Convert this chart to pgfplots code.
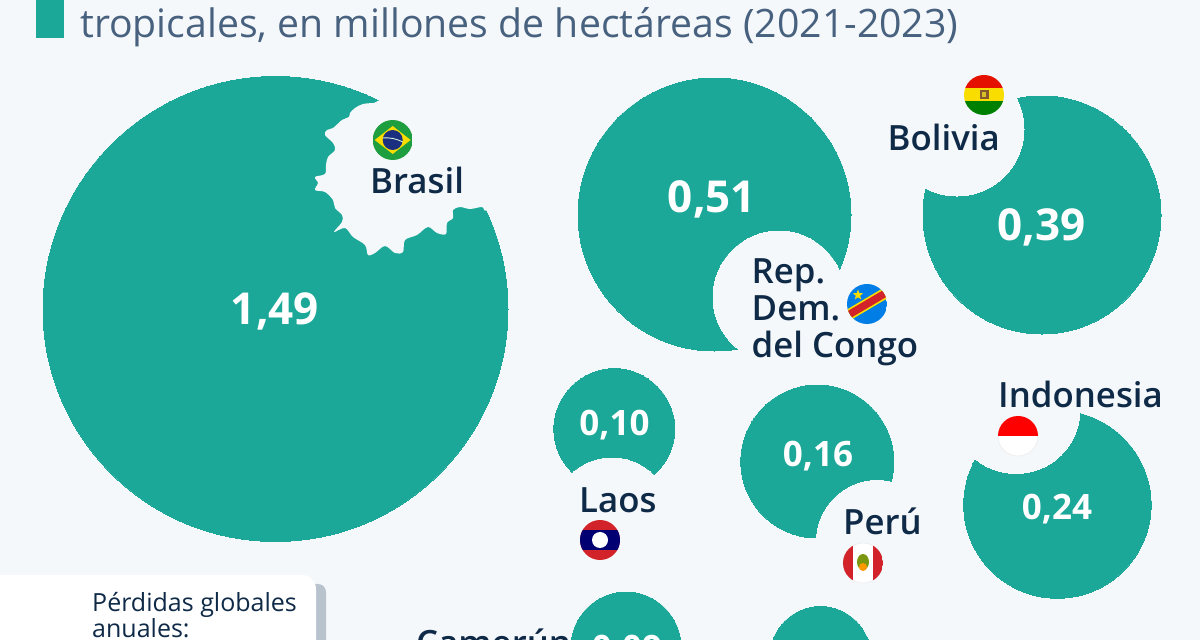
\documentclass[border=0pt]{standalone}
\usepackage{pgfplots}
\pgfplotsset{compat=1.18}
\usepackage{pgfplotstable}
\usetikzlibrary{shapes.geometric}
\usepackage{fontspec}
\setmainfont{Open Sans}
\IfFontExistsTF{Open Sans Semibold}{\newfontfamily\semi{Open Sans Semibold}}{%
  \IfFontExistsTF{Open Sans Medium}{\newfontfamily\semi{Open Sans Medium}}{\newcommand{\semi}{\bfseries}}}
\definecolor{bg}{HTML}{F5F8FB}
\definecolor{bubble}{HTML}{1BA898}
\definecolor{navy}{HTML}{0F2A47}
\definecolor{slate}{HTML}{47617F}
\definecolor{boxshadow}{HTML}{B9C3CE}
\definecolor{fgreen}{HTML}{1E9E3E}
\definecolor{fyellow}{HTML}{F9DC00}
\definecolor{fblue}{HTML}{1B2F80}
\definecolor{fred}{HTML}{D2232A}

% one disc: colour, radius in px, centre
\newcommand{\disc}[4]{\addplot[only marks, mark=*, mark size=#2,
  mark options={fill=#1, draw=#1, line width=0pt}] coordinates {(#3,#4)};}

% value labels
\pgfplotstableread{
x y v
275 324 1.49
712 212.7 0.51
1041.8 240 0.39
}\bigvalues
\pgfplotstableread{
x y v
614.5 435 0.10
818 466.7 0.16
1057 519 0.24
627 660 0.09
}\smallvalues

\begin{document}
\begin{tikzpicture}
\useasboundingbox (0,0) rectangle (1200pt,640pt);
\clip (0,0) rectangle (1200pt,640pt);
\fill[bg] (0,0) rectangle (1200pt,640pt);
% title marker
\fill[bubble] (36pt,602pt) rectangle (64pt,640pt);
% note box
\fill[boxshadow,rounded corners=8pt] (250pt,-20pt) rectangle (326pt,56pt);
\fill[white,rounded corners=14pt] (-30pt,-20pt) rectangle (316pt,65pt);
\begin{axis}[
    scale only axis, width=1200pt, height=640pt,
    xmin=0, xmax=1200, ymin=0, ymax=640, y dir=reverse,
    hide axis, clip=false,
    /pgf/number format/assume math mode=true,
    /pgf/number format/use comma,
    /pgf/number format/fixed,
    /pgf/number format/fixed zerofill,
    /pgf/number format/precision=2,
  ]
  % bubbles
  \disc{bubble}{232.5}{275.5}{309}
  \disc{bubble}{136.5}{714.5}{214.5}
  \disc{bubble}{119}{1042}{215}
  \disc{bubble}{93.7}{1057.4}{504.6}
  \disc{bubble}{76.5}{817.3}{461.5}
  \disc{bubble}{60.4}{614.3}{429}
  \disc{bubble}{55}{626}{647}
  \disc{bubble}{50.5}{820.5}{657}
  % bites round the labels
  \disc{bg}{66}{779}{297}
  \disc{bg}{67}{957}{129}
  \disc{bg}{60}{612}{518}
  \disc{bg}{60.5}{877}{541}
  \disc{bg}{64}{1016}{409.5}
  \addplot[draw=none, mark=none, point meta=explicit, nodes near coords,
    every node near coord/.style={anchor=base, inner sep=0pt, text=white, font=\fontsize{44}{44}\selectfont\bfseries}]
    table[x=x,y=y,meta=v] {\bigvalues};
  \addplot[draw=none, mark=none, point meta=explicit, nodes near coords,
    every node near coord/.style={anchor=base, inner sep=0pt, text=white, font=\fontsize{35}{35}\selectfont\bfseries}]
    table[x=x,y=y,meta=v] {\smallvalues};
\end{axis}
% from here on the coordinates are px of the reference, y downwards
\begin{scope}[x=1pt,y=-1pt,yshift=640pt]
  % scalloped bite in the Brazil bubble
  \fill[bg] plot[smooth, tension=0.55] coordinates {
    (374,103) (363,104) (355,108) (350,113) (349,117) (342,120) (333,128) (327,130)
    (325,135) (333,143) (335,150) (328,157) (326,165) (325,174) (315,177) (318,183)
    (315,190) (325,192) (333,200) (335,208) (342,215) (342,222) (334,232) (345,228)
    (353,237) (365,245) (368,255) (375,253) (385,246) (395,253) (403,252) (405,240)
    (417,235) (428,227) (437,233) (446,234) (447,223) (453,218) (453,210) (460,207)
    (470,209) (482,207) (487,210) (510,190) (500,110) (420,80)
  } -- cycle;
  \node[anchor=base west, inner sep=0pt, text=slate, font=\fontsize{39.2}{40}\selectfont] at (80,38) {tropicales, en millones de hectáreas (2021-2023)};
  \begin{scope}[every node/.style={anchor=base west, inner sep=0pt, text=navy, font=\fontsize{34.8}{35}\selectfont\semi}]
    \node at (370,193.3) {Brasil};
    \node at (887.5,151) {Bolivia};
    \node at (751.5,284) {Rep.};
    \node at (751.5,321) {Dem.};
    \node at (751.5,358) {del Congo};
    \node at (998,407.5) {Indonesia};
    \node at (579,512.5) {Laos};
    \node at (843,534.5) {Perú};
    \node at (416,656) {Camerún};
  \end{scope}
  \node[anchor=base west, inner sep=0pt, text=navy, font=\fontsize{25}{26}\selectfont] at (92,611.7) {Pérdidas globales};
  \node[anchor=base west, inner sep=0pt, text=navy, font=\fontsize{25}{26}\selectfont] at (92,638) {anuales:};
\end{scope}
% flags
\begin{scope}[shift={(392.7pt,500pt)},x=1pt,y=1pt]
  \clip (0,0) circle (20);
  \fill[fgreen] (-20,-20) rectangle (20,20);
  \fill[fyellow] (-18,0) -- (0,14) -- (18,0) -- (0,-14) -- cycle;
  \fill[fblue] (0,0) circle (10);
  \draw[white!80!fgreen,line width=0.9pt] (-10,2) to[bend left=15] (10,-2);
\end{scope}
\begin{scope}[shift={(984pt,545pt)},x=1pt,y=1pt]
  \clip (0,0) circle (20);
  \fill[red!85!orange!90!black] (-20,6.5) rectangle (20,20);
  \fill[fyellow] (-20,-6.5) rectangle (20,6.5);
  \fill[green!50!black] (-20,-20) rectangle (20,-6.5);
  \fill[brown!70!black] (-4.5,-4.5) rectangle (4.5,4.5);
  \fill[fyellow!70!gray] (-2,-2.5) rectangle (2,3);
\end{scope}
\begin{scope}[shift={(867pt,336pt)},x=1pt,y=1pt]
  \clip (0,0) circle (20);
  \fill[blue!45!cyan!90!black] (-20,-20) rectangle (20,20);
  \draw[fyellow,line width=11pt] (-22,-13) -- (22,13);
  \draw[fred,line width=7.5pt] (-22,-13) -- (22,13);
  \node[star, star points=5, star point ratio=2.4, fill=fyellow, inner sep=0pt, minimum size=11pt] at (-9,9) {};
\end{scope}
\begin{scope}[shift={(1018pt,204pt)},x=1pt,y=1pt]
  \fill[white] (0,0) circle (20);
  \draw[black!8,line width=0.6pt] (0,0) circle (20);
  \clip (0,0) circle (20);
  \fill[red] (-20,0) rectangle (20,20);
\end{scope}
\begin{scope}[shift={(600pt,100pt)},x=1pt,y=1pt]
  \clip (0,0) circle (20);
  \fill[fred] (-20,-20) rectangle (20,20);
  \fill[blue!45!black] (-20,-10) rectangle (20,10);
  \fill[white] (0,0) circle (8);
\end{scope}
\begin{scope}[shift={(863pt,77pt)},x=1pt,y=1pt]
  \fill[white] (0,0) circle (20);
  \draw[black!8,line width=0.6pt] (0,0) circle (20);
  \clip (0,0) circle (20);
  \fill[fred] (-20,-20) rectangle (-10,20);
  \fill[fred] (10,-20) rectangle (20,20);
  \fill[olive!70!green] (0,1) ellipse (6 and 8);
  \fill[orange!80!yellow] (0,-4) ellipse (4 and 4);
\end{scope}
\end{tikzpicture}
\end{document}
